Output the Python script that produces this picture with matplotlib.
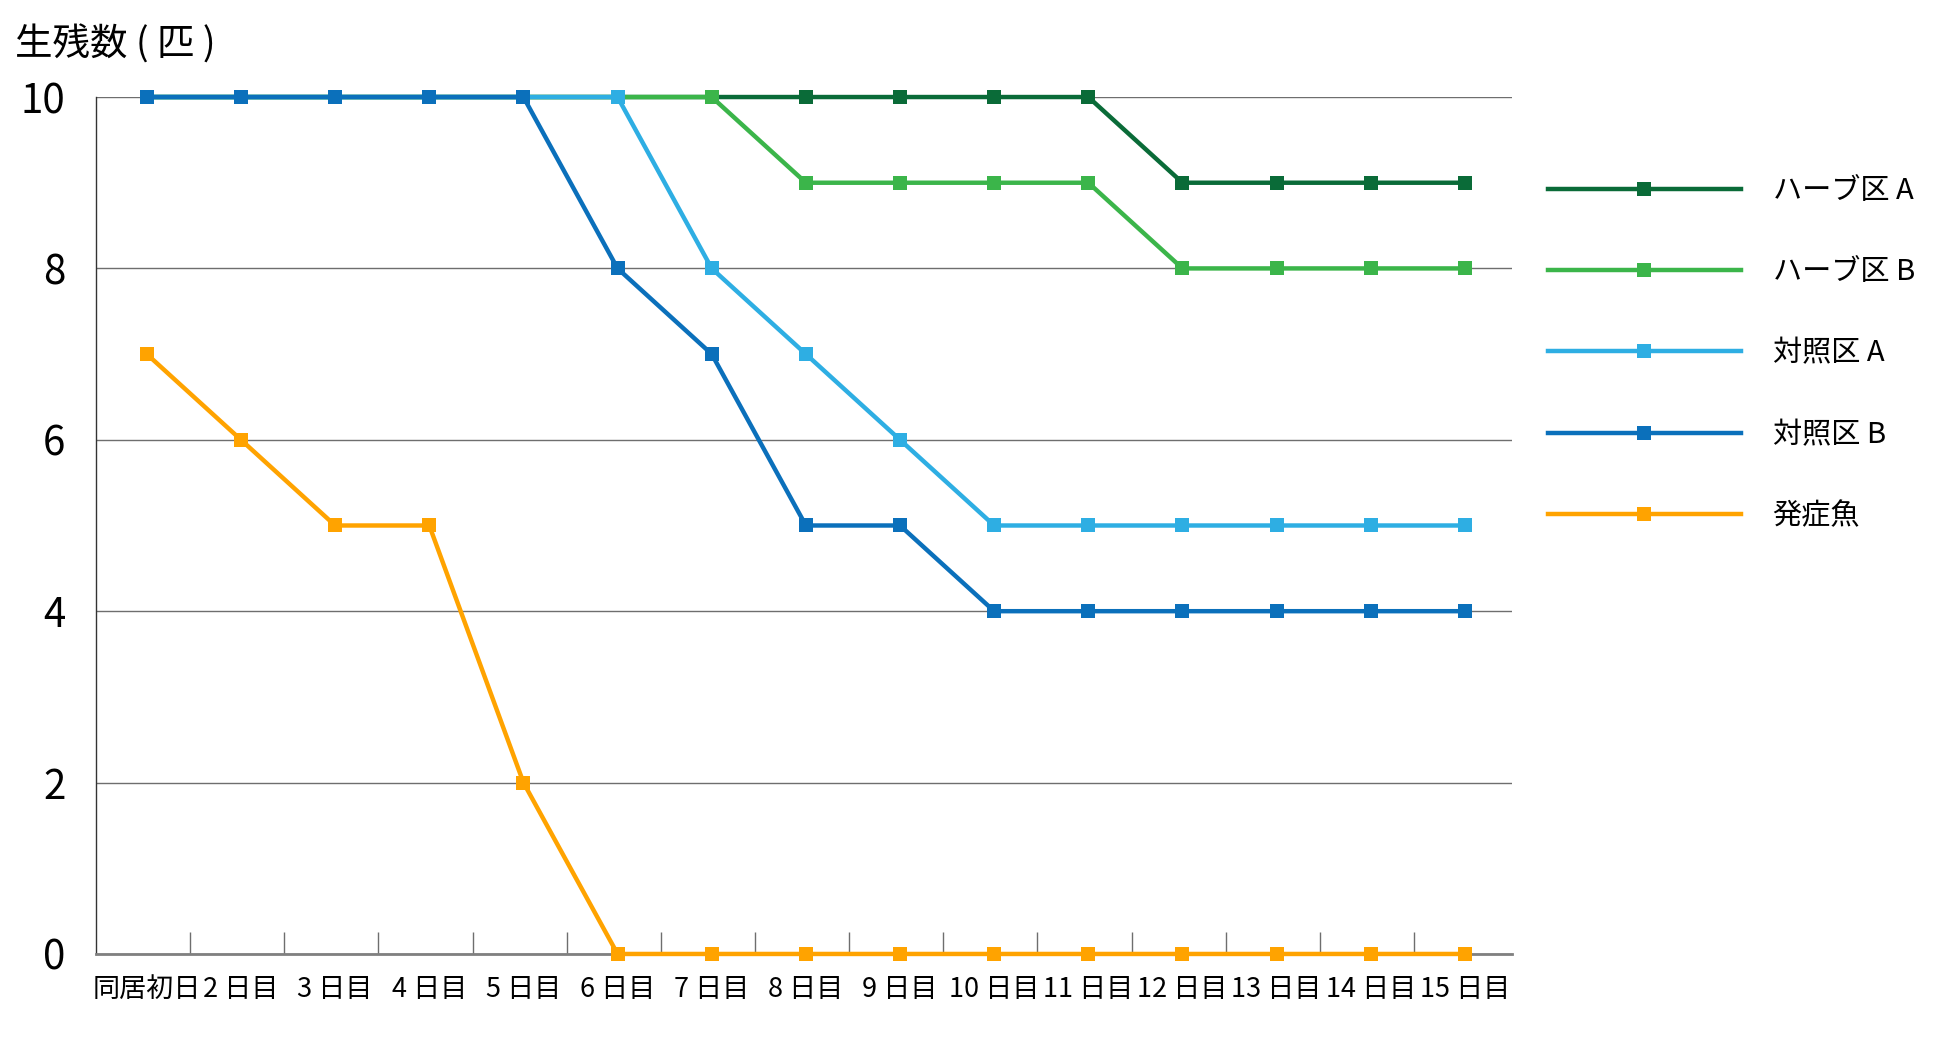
import matplotlib
matplotlib.use("Agg")
import matplotlib.pyplot as plt
from matplotlib.ticker import FixedLocator, NullFormatter

plt.rcParams['font.family'] = ['Noto Sans CJK JP', 'DejaVu Sans']

# データ
days = ['同居初日', '2 日目', '3 日目', '4 日目', '5 日目', '6 日目', '7 日目', '8 日目',
        '9 日目', '10 日目', '11 日目', '12 日目', '13 日目', '14 日目', '15 日目']
herb_a = [10, 10, 10, 10, 10, 10, 10, 10, 10, 10, 10, 9, 9, 9, 9]
herb_b = [10, 10, 10, 10, 10, 10, 10, 9, 9, 9, 9, 8, 8, 8, 8]
ctrl_a = [10, 10, 10, 10, 10, 10, 8, 7, 6, 5, 5, 5, 5, 5, 5]
ctrl_b = [10, 10, 10, 10, 10, 8, 7, 5, 5, 4, 4, 4, 4, 4, 4]
sick = [7, 6, 5, 5, 2, 0, 0, 0, 0, 0, 0, 0, 0, 0, 0]

series = [
    ('ハーブ区 A', herb_a, '#0a6b38'),
    ('ハーブ区 B', herb_b, '#3bb54a'),
    ('対照区 A', ctrl_a, '#2eaee3'),
    ('対照区 B', ctrl_b, '#0b70bb'),
    ('発症魚', sick, '#ffa300'),
]

fig = plt.figure(figsize=(19.55, 10.49), dpi=100)
ax = fig.add_axes([0.0491, 0.0906, 0.7243, 0.8169])

x = list(range(len(days)))
for label, vals, color in series:
    ax.plot(x, vals, color=color, lw=3.2, marker='s', markersize=9.5,
            markeredgewidth=0, label=label, zorder=3, clip_on=False)

ax.set_xlim(-0.54, len(days) - 0.5)
ax.set_ylim(0, 10)

# y軸
ax.set_yticks([0, 2, 4, 6, 8, 10])
ax.tick_params(axis='y', length=0, pad=22, labelsize=29)
ax.yaxis.grid(True, color='#6e6e6e', lw=1)

# x軸: 目盛り線は区切り、ラベルは中央
ax.xaxis.set_major_locator(FixedLocator([i + 0.46 for i in range(len(days) - 1)]))
ax.xaxis.set_major_formatter(NullFormatter())
ax.xaxis.set_minor_locator(FixedLocator(x))
ax.set_xticklabels(days, minor=True)
ax.tick_params(axis='x', which='major', direction='in', length=16, width=1, color='#6e6e6e')
ax.tick_params(axis='x', which='minor', length=0, pad=16, labelsize=19.5)

for s in ['top', 'right']:
    ax.spines[s].set_visible(False)
ax.spines['left'].set_color('#333333')
ax.spines['left'].set_linewidth(1)
ax.spines['bottom'].set_color('#808080')
ax.spines['bottom'].set_linewidth(2)
ax.set_axisbelow(True)

fig.text(15 / 1955, 1 - 45 / 1049, '生残数 ( 匹 )', fontsize=27, va='center', ha='left')

fig.legend(loc='upper left', bbox_to_anchor=(1548 / 1955, 1 - 176 / 1049),
           frameon=False, fontsize=21, handlelength=6.6, handletextpad=1.1,
           labelspacing=1.76, borderpad=0, borderaxespad=0)

fig.savefig('out.png', dpi=100)
